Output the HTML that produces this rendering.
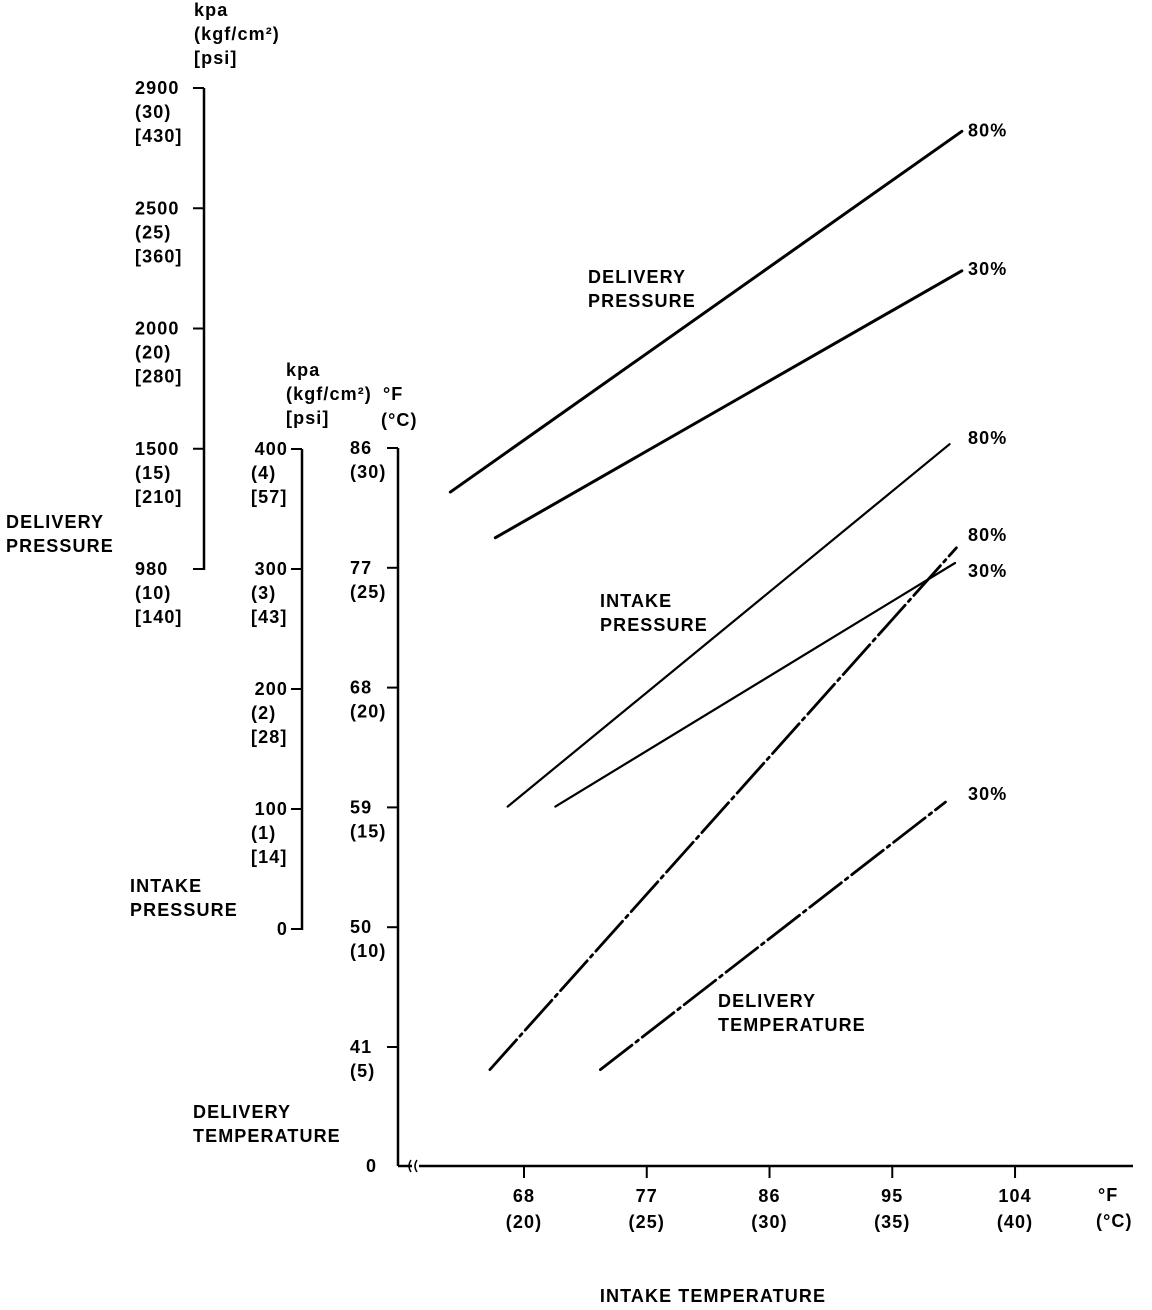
<!DOCTYPE html>
<html><head><meta charset="utf-8">
<style>
html,body{margin:0;padding:0;background:#fff;}
svg{display:block;}
text{font-family:"Liberation Sans",Arial,sans-serif;font-weight:bold;font-size:18px;letter-spacing:1.1px;fill:#000;}
</style></head>
<body>
<svg id="chart" width="1152" height="1310" viewBox="0 0 1152 1310" xmlns="http://www.w3.org/2000/svg">
<g id="static">
  <g stroke="#000" stroke-width="2.5">
    <line x1="204" y1="88" x2="204" y2="570"/>
  </g>
  <text x="194" y="16">kpa</text>
  <text x="194" y="40">(kgf/cm²)</text>
  <text x="194" y="64">[psi]</text>
  <text x="6" y="528">DELIVERY</text>
  <text x="6" y="552">PRESSURE</text>

  <g stroke="#000" stroke-width="2.5">
    <line x1="302" y1="449" x2="302" y2="930"/>
  </g>
  <text x="286" y="376">kpa</text>
  <text x="286" y="400">(kgf/cm²)</text>
  <text x="286" y="424">[psi]</text>
  <text x="130" y="892">INTAKE</text>
  <text x="130" y="916">PRESSURE</text>

  <g stroke="#000" stroke-width="2.5" fill="none">
    <line x1="398" y1="448" x2="398" y2="1166"/>
    <line x1="398" y1="1166" x2="412" y2="1166"/>
    <path d="M411 1160 q-4 6 0 12 M417 1160 q-4 6 0 12" stroke-width="1.5"/>
    <line x1="419" y1="1166" x2="1133" y2="1166"/>
  </g>
  <text x="383" y="400">°F</text>
  <text x="381" y="426">(°C)</text>
  <text x="193" y="1118">DELIVERY</text>
  <text x="193" y="1142">TEMPERATURE</text>
  <text x="366" y="1172">0</text>

  <text x="1098" y="1201">°F</text>
  <text x="1096" y="1227">(°C)</text>
  <text x="713" y="1302" text-anchor="middle">INTAKE TEMPERATURE</text>

  <text x="588" y="283">DELIVERY</text>
  <text x="588" y="307">PRESSURE</text>
  <text x="600" y="607">INTAKE</text>
  <text x="600" y="631">PRESSURE</text>
  <text x="718" y="1007">DELIVERY</text>
  <text x="718" y="1031">TEMPERATURE</text>
</g>
<g id="dyn"></g>
</svg>
<script>
// X axis (intake temperature °F)
const xTicksF = [68, 77, 86, 95, 104];
const xTicksC = ["(20)", "(25)", "(30)", "(35)", "(40)"];
// Delivery pressure axis (kgf/cm2)
const dpTicksKgf = [30, 25, 20, 15, 10];
const dpTickKpa = ["2900", "2500", "2000", "1500", "980"];
const dpTickKgfLbl = ["(30)", "(25)", "(20)", "(15)", "(10)"];
const dpTickPsi = ["[430]", "[360]", "[280]", "[210]", "[140]"];
// Intake pressure axis (kPa)
const ipTicks = [400, 300, 200, 100, 0];
const ipTickKgf = ["(4)", "(3)", "(2)", "(1)", ""];
const ipTickPsi = ["[57]", "[43]", "[28]", "[14]", ""];
// Delivery temperature axis (°F)
const dtTicks = [86, 77, 68, 59, 50, 41];
const dtTickC = ["(30)", "(25)", "(20)", "(15)", "(10)", "(5)"];

// Series: [x start °F, x end °F], [y start, y end]
const dp80x = [62.6, 100.1], dp80y = [13.2, 28.2];
const dp30x = [65.9, 100.1], dp30y = [11.3, 22.4];
const ip80x = [66.8, 99.2], ip80y = [102, 404];
const ip30x = [70.3, 99.6], ip30y = [102, 305];
const dt80x = [65.5, 99.7], dt80y = [39.3, 78.5];
const dt30x = [73.6, 98.9], dt30y = [39.3, 59.4];

const xS = f => 524 + (f - 68) * 13.64;
const dpS = k => 569 - (k - 10) * 24.05;
const ipS = p => 929 - p * 1.2;
const dtS = f => 448 + (86 - f) / 9 * 119.8;

const NS = "http://www.w3.org/2000/svg";
const g = document.getElementById("dyn");
function mk(tag, attrs, txt) {
  const e = document.createElementNS(NS, tag);
  for (const k in attrs) e.setAttribute(k, attrs[k]);
  if (txt !== undefined) e.textContent = txt;
  g.appendChild(e);
  return e;
}

xTicksF.forEach((v, i) => {
  const x = xS(v);
  let e = mk("line", {x1: x, y1: 1166, x2: x, y2: 1178, stroke: "#000", "stroke-width": 2});
  
  
  e = mk("text", {x: x, y: 1202, "text-anchor": "middle"}, String(v));
  
  
  e = mk("text", {x: x, y: 1228, "text-anchor": "middle"}, xTicksC[i]);
  
  
});

dpTicksKgf.forEach((v, i) => {
  const y = dpS(v);
  let e = mk("line", {x1: 193, y1: y, x2: 204, y2: y, stroke: "#000", "stroke-width": 2});
  
  
  e = mk("text", {x: 135, y: y + 6}, dpTickKpa[i]);
  
  
  e = mk("text", {x: 135, y: y + 30}, dpTickKgfLbl[i]);
  
  
  e = mk("text", {x: 135, y: y + 54}, dpTickPsi[i]);
  
  
});

ipTicks.forEach((v, i) => {
  const y = ipS(v);
  let e = mk("line", {x1: 291, y1: y, x2: 302, y2: y, stroke: "#000", "stroke-width": 2});
  
  
  e = mk("text", {x: 288, y: y + 6, "text-anchor": "end"}, String(v));
  
  
  if (ipTickKgf[i]) {
    e = mk("text", {x: 251, y: y + 30}, ipTickKgf[i]);
    
    
    e = mk("text", {x: 251, y: y + 54}, ipTickPsi[i]);
    
    
  }
});

dtTicks.forEach((v, i) => {
  const y = dtS(v);
  let e = mk("line", {x1: 387, y1: y, x2: 398, y2: y, stroke: "#000", "stroke-width": 2});
  
  
  e = mk("text", {x: 350, y: y + 6}, String(v));
  
  
  e = mk("text", {x: 350, y: y + 30}, dtTickC[i]);
  
  
});

function series(xs, ys, yS, width, dash, name, label, dy) {
  const x1 = xS(xs[0]), y1 = yS(ys[0]), x2 = xS(xs[1]), y2 = yS(ys[1]);
  const attrs = {x1: x1, y1: y1, x2: x2, y2: y2, stroke: "#000", "stroke-width": width, "stroke-linecap": "round"};
  if (dash) attrs["stroke-dasharray"] = dash;
  let e = mk("line", attrs);
  
  
  e = mk("text", {x: 968, y: y2 + dy}, label);
  
  
}
series(dp80x, dp80y, dpS, 3, null, "delivery-pressure-80-line", "80%", 5);
series(dp30x, dp30y, dpS, 3, null, "delivery-pressure-30-line", "30%", 4);
series(ip80x, ip80y, ipS, 2.2, null, "intake-pressure-80-line", "80%", 0);
series(ip30x, ip30y, ipS, 2.2, null, "intake-pressure-30-line", "30%", 14);
series(dt80x, dt80y, dtS, 2.8, "40 5 3 5", "delivery-temperature-80-line", "80%", -7);
series(dt30x, dt30y, dtS, 2.8, "40 5 3 5", "delivery-temperature-30-line", "30%", -2);
</script>
</body></html>
